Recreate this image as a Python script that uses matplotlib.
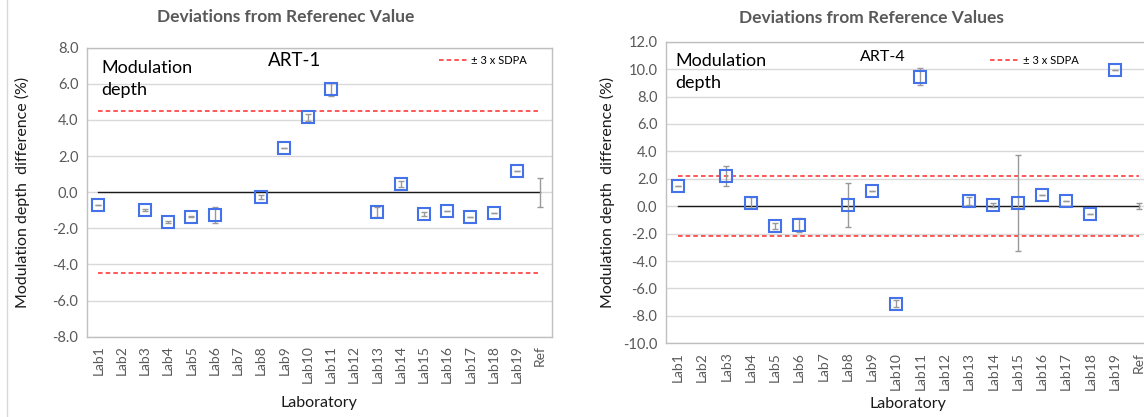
import numpy as np
import matplotlib
matplotlib.use('Agg')
import matplotlib.pyplot as plt
from matplotlib.lines import Line2D

plt.rcParams['font.family'] = ['Lato', 'DejaVu Sans']

labs = ['Lab%d' % i for i in range(1, 20)] + ['Ref']

# ART-1 (left panel)
art1_vals = [-0.7, np.nan, -1.0, -1.65, -1.35, -1.25, np.nan, -0.25, 2.45, 4.15,
             5.7, np.nan, -1.1, 0.45, -1.2, -1.05, -1.4, -1.15, 1.2]
art1_err = [0, 0, 0.05, 0.05, 0.05, 0.45, 0, 0.1, 0, 0.2,
            0.35, 0, 0.3, 0.15, 0.1, 0, 0, 0, 0]
art1_ref_err = 0.8
art1_sdpa = 4.5

# ART-4 (right panel)
art4_vals = [1.45, np.nan, 2.2, 0.25, -1.45, -1.35, np.nan, 0.1, 1.1, -7.1,
             9.45, np.nan, 0.4, 0.1, 0.25, 0.85, 0.4, -0.55, 9.9]
art4_err = [0, 0, 0.7, 0.4, 0.2, 0.5, 0, 1.6, 0, 0.25,
            0.6, 0, 0.3, 0.15, 3.5, 0, 0, 0, 0]
art4_ref_err = 0.2
art4_sdpa = 2.2

BLUE = '#4472e8'
GREY_TXT = '#595959'
GRID = '#d9d9d9'


def draw_panel(ax, vals, err, ref_err, sdpa, ylim, art, art_fs,
               mod_xy, art_xy, leg_anchor, border_all):
    x = np.arange(len(labs))
    y_all = list(vals) + [0.0]
    e_all = list(err) + [ref_err]
    zero = np.zeros(len(labs))
    band = np.full(len(labs), sdpa)

    ax.plot(x, zero, color='#1a1a1a', lw=1.0, zorder=2)
    ax.plot(x, band, color='#ff2a2a', lw=1.1, ls=(0, (3, 2)), zorder=2,
            label='\u00b1 3 x SDPA')
    ax.plot(x, -band, color='#ff2a2a', lw=1.1, ls=(0, (3, 2)), zorder=2)

    ax.errorbar(x, y_all, yerr=e_all, fmt='none', ecolor='#999999',
                elinewidth=1, capsize=2.5, capthick=1, zorder=3)
    ax.plot(x[:-1], vals, ls='none', marker='s', ms=8, mfc='none',
            mec=BLUE, mew=1.5, zorder=4)

    ax.set_xlim(-0.5, len(labs) - 0.5)
    ax.set_ylim(*ylim)
    ticks = np.arange(ylim[0], ylim[1] + 0.1, 2)
    ax.set_yticks(ticks)
    ax.set_yticklabels(['%.1f' % v for v in ticks])
    ax.set_xticks(x)
    ax.set_xticklabels(labs, rotation=90)
    ax.tick_params(axis='both', length=0, colors=GREY_TXT)
    ax.tick_params(axis='y', labelsize=10.5, pad=6)
    ax.tick_params(axis='x', labelsize=10, pad=6)
    ax.grid(axis='y', color=GRID, lw=1)
    ax.set_axisbelow(True)
    for sp in ax.spines.values():
        sp.set_color('#bfbfbf')
        sp.set_linewidth(1)
    if not border_all:
        ax.spines['right'].set_visible(False)

    ax.set_ylabel('Modulation depth  difference (%)', fontsize=11.5, color='#1a1a1a')
    ax.set_xlabel('Laboratory', fontsize=11.5, color='#1a1a1a')

    ax.text(mod_xy[0], mod_xy[1], 'Modulation\ndepth', transform=ax.transAxes,
            fontsize=13, ha='left', va='center', linespacing=1.45)
    ax.text(art_xy[0], art_xy[1], art, transform=ax.transAxes,
            fontsize=art_fs, ha='center', va='center')
    ax.legend(loc='center left', bbox_to_anchor=leg_anchor, frameon=False,
              fontsize=8, handlelength=2.6, handletextpad=0.3, borderpad=0,
              borderaxespad=0)


fig = plt.figure(figsize=(11.44, 4.17), dpi=100)

ax1 = fig.add_axes([0.0758, 0.1926, 0.4065, 0.6930])
draw_panel(ax1, art1_vals, art1_err, art1_ref_err, art1_sdpa, (-8, 8), 'ART-1',
           13.5, (0.032, 0.891), (0.448, 0.954), (0.757, 0.957), True)
ax1.yaxis.set_label_coords(-0.138, 0.5)
ax1.xaxis.set_label_coords(0.5, -0.229)
ax1.yaxis.label.set_va('center')
ax1.xaxis.label.set_va('center')

ax2 = fig.add_axes([0.5819, 0.1767, 0.4242, 0.7233])
draw_panel(ax2, art4_vals, art4_err, art4_ref_err, art4_sdpa, (-10, 12), 'ART-4',
           11.5, (0.019, 0.900), (0.448, 0.950), (0.669, 0.937), False)
ax2.yaxis.set_label_coords(-0.121, 0.5)
ax2.xaxis.set_label_coords(0.5, -0.2)
ax2.yaxis.label.set_va('center')
ax2.xaxis.label.set_va('center')

fig.text(286 / 1144, 1 - 17 / 417, 'Deviations from Referenec Value',
         fontsize=12.5, fontweight='bold', color=GREY_TXT, ha='center', va='center')
fig.text(871 / 1144, 1 - 18 / 417, 'Deviations from Reference Values',
         fontsize=12.5, fontweight='bold', color=GREY_TXT, ha='center', va='center')

# faint border at the left edge of the left chart area
fig.add_artist(Line2D([7 / 1144, 7 / 1144], [0, 1], transform=fig.transFigure,
                      color='#d9d9d9', lw=1))

fig.savefig('out.png', dpi=100)
